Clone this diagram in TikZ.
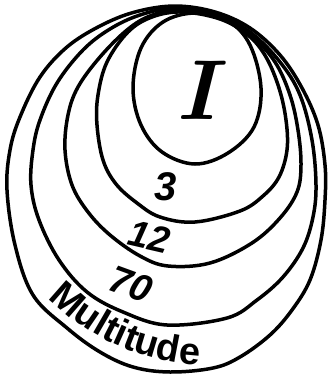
\documentclass[tikz,border=0pt]{standalone}
\usepackage{fontspec}
\setsansfont{Liberation Sans}
\tikzset{
  ring/.style={draw=black, line width=3.5pt, line join=round},
  numlabel/.style={font=\fontsize{40}{42}\selectfont\sffamily\bfseries\itshape, inner sep=0pt},
  mletter/.style={font=\fontsize{38}{40}\selectfont\sffamily\bfseries, inner sep=0pt, anchor=base},
}
\begin{document}
\begin{tikzpicture}[x=1pt,y=-1pt]
\path[use as bounding box, fill=white] (0,0) rectangle (328,375);
% outermost: Multitude
\draw[ring] plot[smooth cycle, tension=0.6] coordinates {
 (175,6) (215,12) (250,28) (280,55) (302,88) (318,125) (325,165) (325,200)
 (321,240) (310,280) (292,310) (270,335) (240,357) (213,368) (170,372)
 (133,367) (100,352) (67,328) (33,295) (15,245) (7,190) (10,150) (20,117)
 (40,77) (67,47) (100,26) (135,12)};
% 70
\draw[ring] plot[smooth cycle, tension=0.6] coordinates {
 (175,8) (215,14) (250,32) (280,62) (300,95) (312,140) (316,185) (313,217)
 (303,248) (283,277) (257,300) (227,318) (167,325) (123,312) (87,292)
 (59,260) (39,220) (31,185) (33,150) (40,120) (57,83) (83,50) (110,29) (140,15)};
% 12
\draw[ring] plot[smooth cycle, tension=0.6] coordinates {
 (178,10) (218,17) (252,37) (275,62) (290,95) (298,130) (301,165) (297,192)
 (280,218) (252,243) (210,263) (168,266) (140,256) (110,235) (88,212)
 (72,185) (65,150) (68,115) (78,87) (100,57) (127,30) (150,16)};
% 3
\draw[ring] plot[smooth cycle, tension=0.6] coordinates {
 (182,12) (220,19) (248,35) (266,57) (279,88) (286,120) (287,150) (279,177)
 (263,196) (240,211) (195,222) (160,217) (137,203) (116,184) (103,160)
 (97,125) (98,95) (107,62) (128,32) (152,17)};
% 1
\draw[ring] plot[smooth cycle, tension=0.6] coordinates {
 (195,13) (228,21) (250,45) (261,88) (254,127) (228,153) (195,164)
 (162,152) (141,125) (133,88) (141,48) (163,22)};
% labels
\node[inner sep=0pt, font=\fontsize{85}{90}\selectfont\bfseries\itshape] (one) at (197,90) {I};
\node[numlabel] (three) at (166,187) {3};
\node[numlabel, font=\fontsize{37}{39}\selectfont\sffamily\bfseries\itshape, rotate=-13] (twelve) at (149,237) {12};
\node[numlabel, font=\fontsize{38}{40}\selectfont\sffamily\bfseries\itshape, rotate=-20] (seventy) at (131,284) {70};
\foreach \ch/\ang [count=\k] in {M/131.3, u/124.4, l/120.1, t/117.2, i/114.2, t/111.3, u/106.8, d/100.9, e/95.0}
  \node[mletter, rotate=90-\ang] (m\k) at ([shift={(209,139)}]\ang:226) {\ch};
\end{tikzpicture}
\end{document}
